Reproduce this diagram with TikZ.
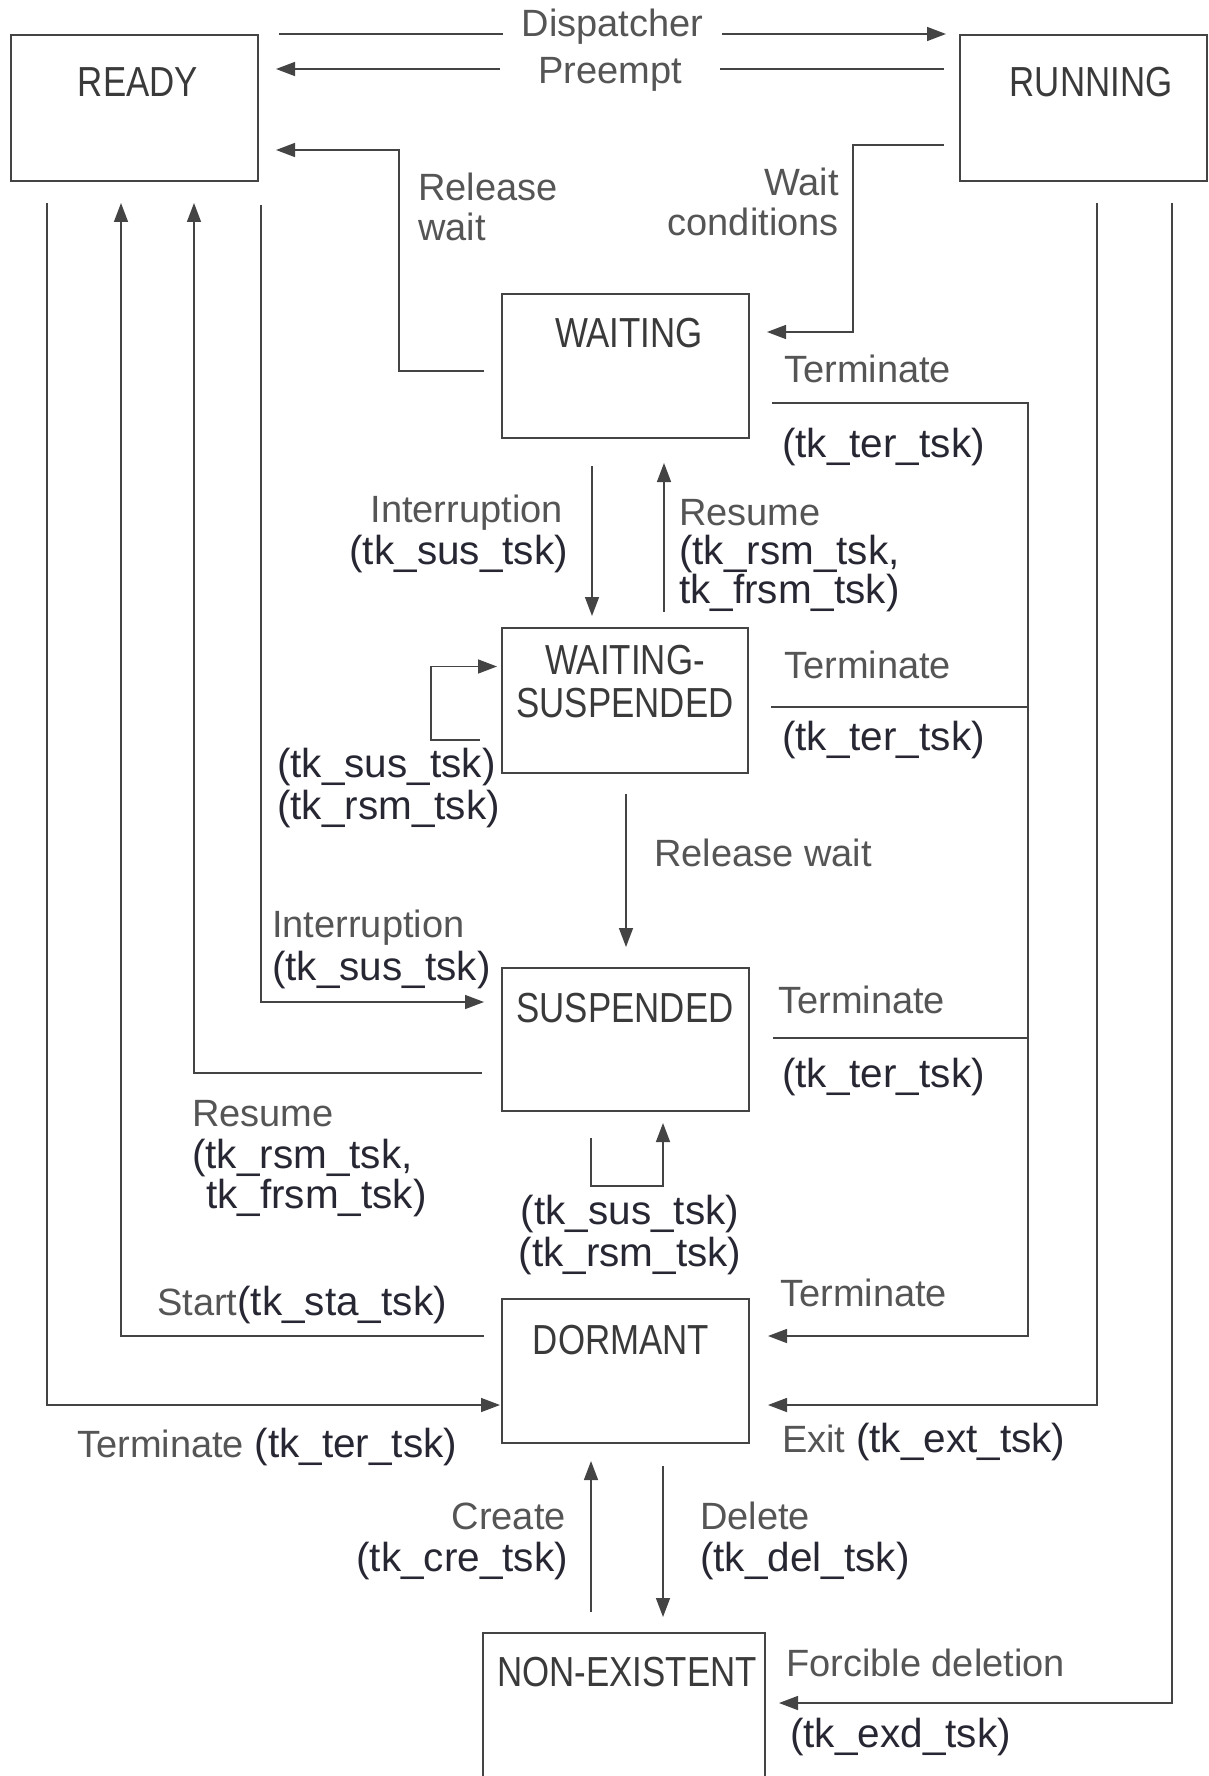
\documentclass[tikz,border=0pt]{standalone}
\usepackage{fontspec}
\setmainfont{Liberation Sans}
\newfontfamily\boxfont[FakeStretch=0.83]{Liberation Sans}
\usetikzlibrary{arrows.meta,calc}
\definecolor{lblgray}{HTML}{555555}
\definecolor{apidark}{HTML}{272733}
\definecolor{linegray}{HTML}{444444}
\definecolor{boxtext}{HTML}{3A3A3A}
\newcommand{\api}[1]{{\fontsize{40.5}{42}\selectfont\color{apidark}#1}}
\begin{document}
\begin{tikzpicture}[x=1pt,y=-1pt,
  statebox/.style={draw=linegray, line width=2pt, minimum width=247pt, minimum height=145pt, inner sep=0pt},
  boxlab/.style={font=\boxfont\fontsize{42}{46}\selectfont, text=boxtext, inner sep=0pt},
  lab/.style={font=\fontsize{38}{40}\selectfont, text=lblgray, inner sep=0pt},
  wl/.style={lab, anchor=west},
  el/.style={lab, anchor=east},
  cl/.style={lab, anchor=center},
  conn/.style={draw=linegray, line width=1.5pt},
  arr/.style={conn, -{Triangle[length=19pt,width=14pt]}},
]
\useasboundingbox (0,0) rectangle (1208,1776);

% state boxes
\node[statebox, minimum height=146pt] (ready) at (134.5,108) {};
\node[statebox, minimum height=146pt] (running) at (1083.5,108) {};
\node[statebox, minimum height=144pt] (waiting) at (625.5,366) {};
\node[statebox, minimum width=246pt] (ws) at (625,700.5) {};
\node[statebox, minimum height=143pt] (susp) at (625.5,1039.5) {};
\node[statebox, minimum height=144pt] (dormant) at (625.5,1371) {};
\node[statebox, minimum width=282pt, minimum height=162pt] (nonex) at (624,1714) {};

% box labels
\node[boxlab] (readyT) at (138,82) {READY};
\node[boxlab] (runningT) at (1091,82) {RUNNING};
\node[boxlab] (waitingT) at (629,333) {WAITING};
\node[boxlab] (wsT1) at (625,660) {WAITING-};
\node[boxlab] (wsT2) at (625,703) {SUSPENDED};
\node[boxlab] (suspT) at (625,1008) {SUSPENDED};
\node[boxlab] (dormantT) at (621,1340) {DORMANT};
\node[boxlab] (nonexT) at (627,1672) {NON-EXISTENT};

% Dispatcher / Preempt
\draw[arr] ([xshift=20pt]ready.north east) -- node[lab, fill=white, inner xsep=19pt, yshift=7pt] (dispT) {Dispatcher} ([xshift=-13pt]running.north west);
\draw[arr] ([xshift=-15pt,yshift=-35pt]running.north west) -- node[lab, fill=white, inner xsep=38pt, yshift=-5pt] (preT) {Preempt} ([xshift=17pt,yshift=-35pt]ready.north east);

% Release wait (WAITING -> READY)
\draw[arr] ($(waiting.west)+(-17,5)$) -| ($(ready.east)+(140,42)$) -- ($(ready.east)+(17,42)$);
\node[wl] (rw1) at (418,187) {Release};
\node[wl] (rw2) at (418,227) {wait};

% Wait conditions (RUNNING -> WAITING)
\draw[arr] ($(running.west)+(-15,37)$) -| ($(waiting.east)+(103,-34)$) -- ($(waiting.east)+(17,-34)$);
\node[el] (wc1) at (839,182) {Wait};
\node[el] (wc2) at (839,222) {conditions};

% WAITING <-> WAITING-SUSPENDED
\draw[arr] ($(waiting.south)+(-33.5,27)$) -- ($(ws.north)+(-33,-11)$);
\draw[arr] ($(ws.north)+(39,-15)$) -- ($(waiting.south)+(38.5,24)$);
\node[el] (int1a) at (563,513) {Interruption};
\node[el] (int1b) at (568,554) {\api{(tk\_sus\_tsk)}};
\node[wl] (res1a) at (679,513) {Resume};
\node[wl] (res1b) at (679,554) {\api{(tk\_rsm\_tsk,}};
\node[wl] (res1c) at (679,593) {\api{tk\_frsm\_tsk)}};

% Terminate column on the right
\draw[arr] ($(waiting.east)+(22,37)$) -| ($(dormant.east)+(278,-35)$) -- ($(dormant.east)+(18,-35)$);
\draw[conn] ($(ws.east)+(22,6.5)$) -- ($(ws.east)+(279,6.5)$);
\draw[conn] ($(susp.east)+(23,-1.5)$) -- ($(susp.east)+(278,-1.5)$);
\node[wl] (tw1) at (784,369) {Terminate};
\node[wl] (tw2) at (782,447) {\api{(tk\_ter\_tsk)}};
\node[wl] (tws1) at (784,665) {Terminate};
\node[wl] (tws2) at (782,740) {\api{(tk\_ter\_tsk)}};
\node[wl] (ts1) at (778,1000) {Terminate};
\node[wl] (ts2) at (782,1077) {\api{(tk\_ter\_tsk)}};
\node[wl] (td1) at (780,1293) {Terminate};

% WAITING-SUSPENDED self loop
\draw[arr] ($(ws.west)+(-21,39.5)$) -| ($(ws.west)+(-70,-34)$) -- ($(ws.west)+(-4,-34)$);
\node[wl] (wsl1) at (277,767) {\api{(tk\_sus\_tsk)}};
\node[wl] (wsl2) at (277,809) {\api{(tk\_rsm\_tsk)}};

% Release wait (WS -> SUSPENDED)
\draw[arr] ($(ws.south)+(1,20)$) -- ($(susp.north)+(0.5,-20)$);
\node[wl] (rw3) at (654,853) {Release wait};

% Interruption (READY -> SUSPENDED)
\draw[arr] ($(ready.south)+(126.5,23)$) |- ($(susp.west)+(-17,-37.5)$);
\node[wl] (int2a) at (272,928) {Interruption};
\node[wl] (int2b) at (272,970) {\api{(tk\_sus\_tsk)}};

% Resume (SUSPENDED -> READY)
\draw[arr] ($(susp.west)+(-19,33.5)$) -| ($(ready.south)+(59.5,21)$);
\node[wl] (res2a) at (192,1114) {Resume};
\node[wl] (res2b) at (192,1158) {\api{(tk\_rsm\_tsk,}};
\node[wl] (res2c) at (206,1198) {\api{tk\_frsm\_tsk)}};

% SUSPENDED self loop
\draw[arr] ($(susp.south)+(-34.5,26)$) |- ($(susp.south)+(37.5,74)$) -- ($(susp.south)+(37.5,11)$);
\node[cl] (sl1) at (630,1214) {\api{(tk\_sus\_tsk)}};
\node[cl] (sl2) at (630,1256) {\api{(tk\_rsm\_tsk)}};

% Start (DORMANT -> READY)
\draw[arr] ($(dormant.west)+(-17,-35)$) -| ($(ready.south)+(-13.5,21)$);
\node[wl] (startT) at (157,1305) {Start\api{(tk\_sta\_tsk)}};

% Terminate (READY -> DORMANT)
\draw[arr] ($(ready.south)+(-87.5,21)$) |- ($(dormant.west)+(-1,34)$);
\node[wl] (trd) at (77,1447) {Terminate \api{(tk\_ter\_tsk)}};

% Exit (RUNNING -> DORMANT)
\draw[arr] ($(running.south)+(13.5,21)$) |- ($(dormant.east)+(18,34)$);
\node[wl] (exitT) at (782,1442) {Exit \api{(tk\_ext\_tsk)}};

% Create / Delete
\draw[arr] ($(nonex.north)+(-33,-20)$) -- ($(dormant.south)+(-34.5,17)$);
\draw[arr] ($(dormant.south)+(37.5,22)$) -- ($(nonex.north)+(39,-15)$);
\node[el] (cr1) at (566,1516) {Create};
\node[el] (cr2) at (568,1561) {\api{(tk\_cre\_tsk)}};
\node[wl] (de1) at (700,1516) {Delete};
\node[wl] (de2) at (700,1561) {\api{(tk\_del\_tsk)}};

% Forcible deletion (RUNNING -> NON-EXISTENT)
\draw[arr] ($(running.south)+(88.5,21)$) |- ($(nonex.east)+(13,-11)$);
\node[wl] (fd1) at (786,1663) {Forcible deletion};
\node[wl] (fd2) at (790,1737) {\api{(tk\_exd\_tsk)}};
\end{tikzpicture}
\end{document}
